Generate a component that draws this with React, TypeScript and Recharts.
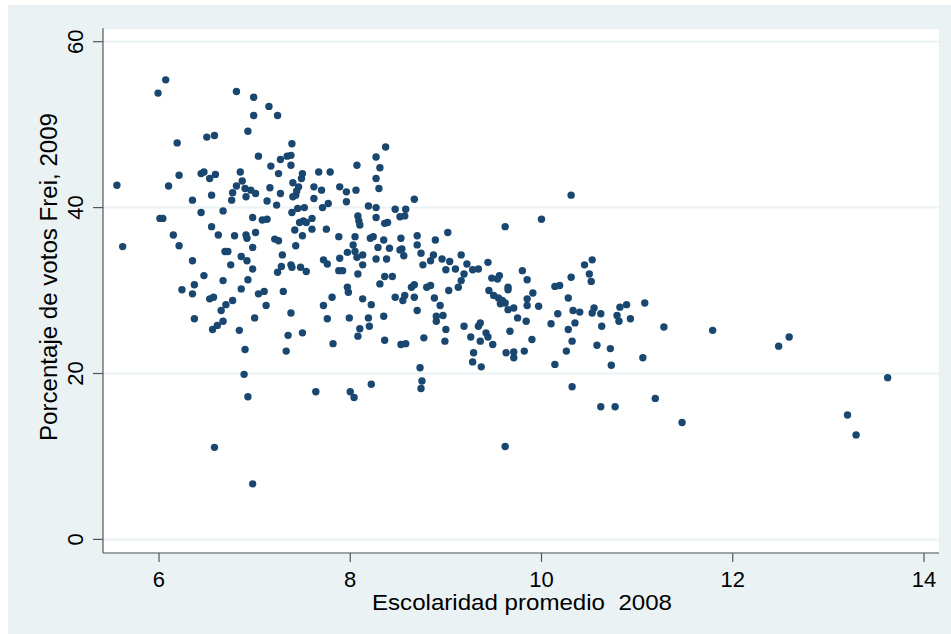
import React from 'react';
import { ScatterChart, Scatter, XAxis, YAxis, CartesianGrid } from 'recharts';

// Escolaridad promedio 2008 (x) and Porcentaje de votos Frei 2009 (y), one entry per comuna
const escolaridad = [
  6.07, 5.99, 6.81, 6.99, 7.15, 6.99, 7.24, 6.93, 6.58, 6.50,
  6.19, 7.04, 7.27, 7.17, 6.21, 6.44, 6.47, 6.53, 6.59, 6.85,
  7.25, 5.56, 6.10, 6.87, 6.81, 6.90, 6.96, 7.01, 7.16, 6.77,
  6.55, 6.91, 7.27, 6.35, 6.76, 7.13, 7.23, 6.44, 6.67, 6.01,
  6.04, 6.98, 7.08, 7.13, 6.55, 6.15, 6.62, 6.79, 6.91, 6.92,
  7.01, 7.21, 7.25, 5.62, 6.21, 6.98, 6.69, 6.72, 6.86, 6.92,
  7.29, 6.35, 6.75, 6.98, 7.24, 7.28, 6.47, 6.93, 6.67, 6.37,
  6.24, 6.35, 6.86, 7.04, 7.10, 6.53, 6.57, 6.77, 6.70, 6.65,
  7.12, 6.37, 7.00, 6.67, 6.61, 6.56, 6.84, 6.90, 6.89, 6.93,
  6.58, 6.98, 7.30, 7.39, 8.37, 7.34, 7.38, 7.38, 8.27, 8.07,
  8.31, 7.50, 7.49, 7.67, 7.79, 8.27, 7.40, 7.46, 7.44, 7.43,
  7.40, 7.62, 7.70, 7.89, 7.96, 8.06, 8.30, 7.62, 7.77, 7.71,
  7.96, 8.67, 7.45, 7.52, 7.39, 8.19, 8.27, 8.47, 8.58, 8.52,
  8.57, 8.08, 8.09, 8.10, 8.27, 8.36, 8.39, 7.47, 7.51, 7.54,
  7.60, 7.42, 7.50, 7.60, 7.75, 7.88, 8.05, 8.21, 8.24, 8.35,
  8.53, 8.70, 8.89, 9.02, 7.43, 8.29, 8.41, 8.70, 8.03, 8.05,
  7.97, 8.52, 8.54, 8.56, 8.74, 8.87, 8.84, 8.96, 7.72, 7.76,
  7.89, 8.07, 8.13, 8.27, 8.38, 7.38, 7.39, 7.48, 7.54, 7.88,
  7.92, 8.13, 8.08, 8.76, 9.00, 9.04, 8.36, 8.44, 8.31, 8.64,
  8.67, 8.80, 8.84, 9.03, 7.97, 7.98, 7.81, 7.72, 8.13, 8.22,
  8.47, 8.55, 8.57, 8.67, 8.88, 8.94, 7.38, 7.76, 7.99, 8.19,
  8.20, 8.10, 8.08, 8.35, 8.70, 8.90, 8.97, 8.90, 9.00, 7.35,
  7.50, 7.33, 7.82, 8.36, 8.53, 8.58, 8.77, 8.99, 8.73, 8.75,
  8.74, 7.64, 8.00, 8.04, 8.22, 10.31, 10.00, 9.62, 9.16, 9.22,
  9.19, 9.16, 9.13, 9.10, 9.28, 9.34, 9.44, 9.48, 9.56, 9.54,
  9.45, 9.50, 9.55, 9.59, 9.57, 9.62, 9.65, 9.71, 9.65, 9.65,
  9.80, 9.85, 9.91, 9.85, 9.85, 9.97, 9.75, 9.84, 10.14, 10.19,
  10.28, 10.31, 10.45, 10.53, 10.50, 10.52, 10.17, 10.33, 10.40, 10.35,
  10.55, 10.53, 10.62, 10.79, 10.82, 10.63, 10.10, 10.28, 9.19, 9.36,
  9.34, 9.67, 9.26, 9.42, 9.44, 9.36, 9.49, 9.29, 9.28, 9.37,
  9.90, 9.63, 9.71, 9.71, 9.82, 10.14, 10.32, 10.26, 10.58, 10.72,
  10.73, 10.81, 10.32, 10.62, 10.77, 9.62, 10.89, 10.93, 11.08, 11.06,
  11.28, 11.79, 12.48, 12.59, 11.19, 11.47, 13.62, 13.20, 13.29,
];

const votos = [
  55.4, 53.8, 54.0, 53.3, 52.2, 51.1, 51.1, 49.2, 48.7, 48.5,
  47.8, 46.2, 45.8, 45.0, 43.9, 44.1, 44.3, 43.5, 44.0, 44.3,
  44.1, 42.7, 42.6, 43.2, 42.6, 42.3, 42.1, 41.7, 42.4, 41.8,
  41.5, 41.3, 41.7, 40.9, 40.9, 40.8, 40.3, 39.4, 39.6, 38.7,
  38.7, 38.8, 38.5, 38.6, 37.7, 36.7, 36.7, 36.6, 36.7, 36.3,
  37.0, 36.2, 36.0, 35.3, 35.4, 35.2, 34.7, 34.7, 34.1, 33.6,
  34.3, 33.6, 33.1, 32.6, 32.2, 32.9, 31.8, 31.3, 31.2, 30.7,
  30.1, 29.6, 30.2, 29.6, 29.9, 29.0, 29.2, 28.8, 28.3, 27.6,
  28.2, 26.6, 26.7, 26.3, 25.8, 25.3, 25.2, 22.9, 19.9, 17.2,
  11.1, 6.7, 29.9, 47.7, 47.3, 46.2, 46.3, 45.1, 46.1, 45.1,
  44.8, 44.1, 43.5, 44.3, 44.3, 43.5, 43.0, 42.5, 42.0, 41.5,
  41.3, 42.5, 42.1, 42.5, 41.9, 42.1, 42.3, 41.1, 40.5, 40.0,
  40.7, 41.0, 39.9, 40.0, 39.4, 40.2, 40.0, 39.8, 39.8, 38.9,
  39.0, 39.0, 38.4, 37.9, 38.8, 38.1, 38.2, 38.2, 38.4, 38.2,
  38.7, 37.3, 36.6, 37.4, 37.4, 36.5, 36.5, 36.3, 36.5, 36.1,
  36.3, 36.6, 36.1, 37.0, 35.4, 35.2, 35.1, 35.5, 35.5, 34.7,
  34.6, 34.9, 35.0, 34.2, 34.5, 34.3, 33.6, 33.8, 33.7, 33.2,
  33.9, 34.0, 34.3, 33.8, 33.8, 33.1, 32.8, 32.8, 32.3, 32.4,
  32.4, 33.1, 32.0, 33.1, 32.5, 33.5, 31.7, 31.7, 30.8, 30.4,
  30.7, 30.4, 30.6, 30.0, 30.4, 29.8, 29.2, 28.2, 29.0, 28.3,
  29.2, 28.8, 29.4, 29.2, 29.1, 28.2, 27.3, 26.6, 26.7, 26.7,
  25.7, 25.4, 24.5, 26.9, 27.6, 26.9, 27.0, 26.3, 25.3, 24.6,
  24.9, 22.7, 23.6, 24.0, 23.5, 23.6, 24.3, 23.9, 20.7, 19.1,
  18.2, 17.8, 17.8, 17.1, 18.7, 41.5, 38.6, 37.7, 34.3, 33.2,
  32.0, 31.2, 30.4, 32.6, 32.5, 32.6, 33.4, 31.5, 31.8, 31.4,
  30.0, 29.4, 29.1, 28.8, 28.4, 28.5, 27.7, 27.9, 30.4, 30.1,
  32.4, 31.3, 29.7, 29.0, 28.2, 28.1, 26.7, 26.3, 30.5, 30.6,
  29.1, 31.6, 33.1, 33.7, 32.0, 31.1, 27.2, 27.6, 27.4, 26.1,
  27.9, 27.3, 27.2, 27.0, 28.0, 25.7, 26.0, 25.3, 25.7, 26.1,
  25.7, 25.1, 24.4, 24.9, 24.4, 23.9, 23.5, 22.5, 21.4, 20.8,
  24.1, 22.5, 22.6, 21.9, 22.7, 21.1, 23.9, 22.7, 23.4, 23.0,
  21.0, 26.3, 18.4, 16.0, 16.0, 11.2, 28.3, 26.6, 28.5, 21.9,
  25.6, 25.2, 23.3, 24.4, 17.0, 14.1, 19.5, 15.0, 12.6,
];

const xTicks = [6, 8, 10, 12, 14];
const yTicks = [0, 20, 40, 60];
const xTitle = 'Escolaridad promedio  2008';
const yTitle = 'Porcentaje de votos Frei, 2009';

const data = escolaridad.map((x, i) => ({ x, y: votos[i] }));

const FONT = '"Liberation Sans", Arial, Helvetica, sans-serif';
const DOT = '#1A476F';
const BG = '#EAF2F3';
const AXIS = '#555555';

const XTick = (props: any) => {
  const { x, payload } = props;
  return (
    <text x={x} y={582.3} textAnchor="middle" fontFamily={FONT} fontSize={22} fill="#000">
      {payload.value}
    </text>
  );
};

const YTick = (props: any) => {
  const { y, payload } = props;
  const bx = 75.3;
  return (
    <text
      x={bx}
      y={y}
      textAnchor="middle"
      transform={`rotate(-90, ${bx}, ${y})`}
      fontFamily={FONT}
      fontSize={22}
      fill="#000"
    >
      {payload.value}
    </text>
  );
};

const Dot = (p: any) => <circle cx={p.cx} cy={p.cy} r={3.7} fill={DOT} />;

export default function App() {
  return (
    <div style={{ position: 'absolute', left: 0, top: 0, width: 951, height: 634, background: '#fff', overflow: 'hidden' }}>
      <div style={{ position: 'absolute', left: 8, top: 5, width: 943, height: 629, background: BG }}>
        <ScatterChart width={943} height={629} margin={{ top: 23.3, right: 12, bottom: 0, left: 0 }}>
          <CartesianGrid vertical={false} stroke={BG} strokeWidth={2} fill="#ffffff" />
          <XAxis
            type="number"
            dataKey="x"
            domain={[5.4144, 14.1569]}
            ticks={xTicks}
            interval={0}
            allowDataOverflow
            height={81}
            tickSize={9}
            axisLine={{ stroke: AXIS, strokeWidth: 1.2 }}
            tickLine={{ stroke: AXIS, strokeWidth: 1.2 }}
            tick={XTick}
          />
          <YAxis
            type="number"
            dataKey="y"
            domain={[-1.6386, 61.614]}
            ticks={yTicks}
            interval={0}
            allowDataOverflow
            width={95}
            tickSize={10}
            axisLine={{ stroke: AXIS, strokeWidth: 1.2 }}
            tickLine={{ stroke: AXIS, strokeWidth: 1.2 }}
            tick={YTick}
          />
          <Scatter data={data} shape={Dot} isAnimationActive={false} />
        </ScatterChart>
      </div>
      <svg
        width={951}
        height={634}
        style={{ position: 'absolute', left: 0, top: 0, pointerEvents: 'none' }}
      >
        <text
          x={522}
          y={610}
          textAnchor="middle"
          fontFamily={FONT}
          fontSize={22}
          fill="#000"
          textLength={300}
          lengthAdjust="spacingAndGlyphs"
          style={{ whiteSpace: 'pre' }}
        >
          {xTitle}
        </text>
        <text
          x={56.7}
          y={277}
          textAnchor="middle"
          transform="rotate(-90, 56.7, 277)"
          fontFamily={FONT}
          fontSize={23}
          fill="#000"
          textLength={328}
          lengthAdjust="spacingAndGlyphs"
        >
          {yTitle}
        </text>
      </svg>
    </div>
  );
}
